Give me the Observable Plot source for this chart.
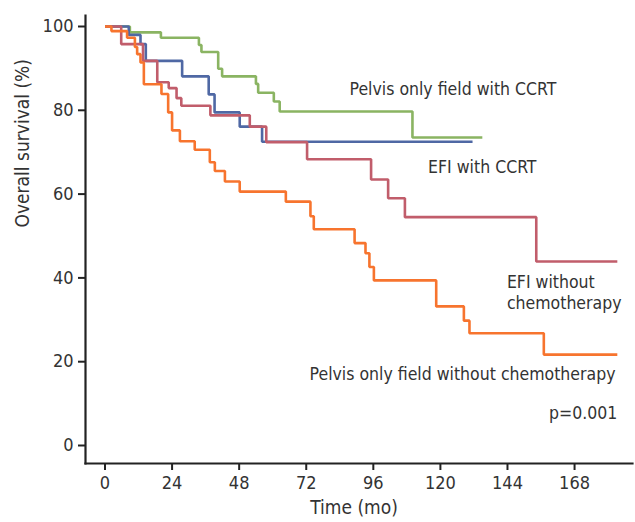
<!DOCTYPE html>
<html>
<head>
<meta charset="utf-8">
<script src="https://cdn.jsdelivr.net/npm/d3@7"></script>
<script src="https://cdn.jsdelivr.net/npm/@observablehq/plot@0.6"></script>
<style>
  html, body { margin: 0; padding: 0; background: #fff; }
  svg { font-family: "DejaVu Sans Condensed", "Liberation Sans Narrow", sans-serif; }
</style>
</head>
<body>
<div id="chart"></div>
<script>
// Pelvis only field with CCRT (green)
const greenTime = [0, 8.9, 20, 33.6, 34.5, 40.5, 41.9, 54, 54.8, 60.4, 62.5, 110, 135];
const greenSurv = [100, 98.6, 97.3, 95.6, 93.9, 89.9, 88.1, 86.3, 84.2, 82.1, 79.7, 73.5, 73.5];
// EFI with CCRT (blue)
const blueTime = [0, 8.5, 12.7, 14.6, 27.6, 37.1, 39.2, 48.2, 56.2, 131.5];
const blueSurv = [100, 98.0, 95.8, 91.8, 88.1, 83.8, 79.5, 76.1, 72.5, 72.5];
// EFI without chemotherapy (red)
const redTime = [0, 5.8, 13.6, 18.7, 22.8, 25.6, 27.3, 37.7, 51.8, 57.7, 72.3, 95.2, 101.3, 107.3, 154.3, 183.3];
const redSurv = [100, 95.8, 91.8, 86.7, 85.3, 82.9, 81.1, 78.8, 76.1, 72.4, 68.3, 63.5, 59.0, 54.5, 43.9, 43.9];
// Pelvis only field without chemotherapy (orange)
const orangeTime = [0, 2.3, 7.9, 10.7, 11.5, 12.7, 13.9, 20.2, 22.6, 24, 26.8, 32.1, 37.5, 39.3, 42.9, 48.2, 64.7, 73.5, 74.7, 89.3, 93.2, 94.6, 96.2, 118.5, 128.4, 130.4, 157, 183.3];
const orangeSurv = [100, 98.9, 97.3, 95.1, 93.4, 91.4, 86.2, 83.9, 79.5, 75.2, 72.6, 70.6, 67.6, 65.5, 63.0, 60.6, 58.2, 54.7, 51.6, 48.3, 45.9, 42.6, 39.4, 33.2, 29.8, 26.8, 21.7, 21.7];

const xTicks = [0, 24, 48, 72, 96, 120, 144, 168];
const yTicks = [0, 20, 40, 60, 80, 100];

const series = [
  {name: "Pelvis only field with CCRT", time: greenTime, surv: greenSurv, color: "#8ab462"},
  {name: "EFI with CCRT", time: blueTime, surv: blueSurv, color: "#4f68a4"},
  {name: "EFI without chemotherapy", time: redTime, surv: redSurv, color: "#c15d6b"},
  {name: "Pelvis only field without chemotherapy", time: orangeTime, surv: orangeSurv, color: "#f7742e"}
];
const rows = series.flatMap(s => s.time.map((t, i) => ({series: s.name, t, s: s.surv[i]})));

const curveLabels = [
  {text: "Pelvis only field with CCRT", t: 87.5, s: 85.2},
  {text: "EFI with CCRT", t: 115.6, s: 66.6},
  {text: "EFI without\nchemotherapy", t: 143.8, s: 36.6},
  {text: "Pelvis only field without chemotherapy", t: 73.2, s: 17.2}
];
const pLabel = [{text: "p=0.001", t: 183.3, s: 7.6}];

const textColor = "#333";

const chart = Plot.plot({
  width: 635,
  height: 522,
  marginLeft: 85,
  marginRight: 3,
  marginTop: 15,
  marginBottom: 59,
  insetLeft: 19.5,
  insetRight: 24.4,
  insetTop: 11,
  insetBottom: 18,
  style: {fontSize: "18px", color: textColor, background: "#fff"},
  x: {domain: [0, 180]},
  y: {domain: [0, 100]},
  color: {domain: series.map(s => s.name), range: series.map(s => s.color)},
  marks: [
    Plot.axisX({ticks: xTicks, tickSize: 7, tickPadding: 6, label: null, fontSize: 18, stroke: "#222", strokeWidth: 2}),
    Plot.axisY({ticks: yTicks, tickSize: 7, tickPadding: 5, label: null, fontSize: 18, stroke: "#222", strokeWidth: 2}),
    Plot.frame({anchor: "left", stroke: "#222", strokeWidth: 2.2}),
    Plot.frame({anchor: "bottom", stroke: "#222", strokeWidth: 2.2}),
    Plot.line(rows, {x: "t", y: "s", z: "series", stroke: "series", curve: "step-after", strokeWidth: 2.6, strokeLinejoin: "miter", strokeLinecap: "butt"}),
    Plot.text(curveLabels, {x: "t", y: "s", text: "text", textAnchor: "start", fill: textColor, fontSize: 17.5, lineHeight: 1.2}),
    Plot.text(pLabel, {x: "t", y: "s", text: "text", textAnchor: "end", fill: textColor, fontSize: 17.5}),
    Plot.text(["Overall survival (%)"], {frameAnchor: "left", dx: -63, dy: -12, rotate: -90, fill: textColor, fontSize: 19}),
    Plot.text(["Time (mo)"], {frameAnchor: "bottom", dx: -5, dy: 50, fill: textColor, fontSize: 19})
  ]
});
document.getElementById("chart").appendChild(chart);
</script>
</body>
</html>
